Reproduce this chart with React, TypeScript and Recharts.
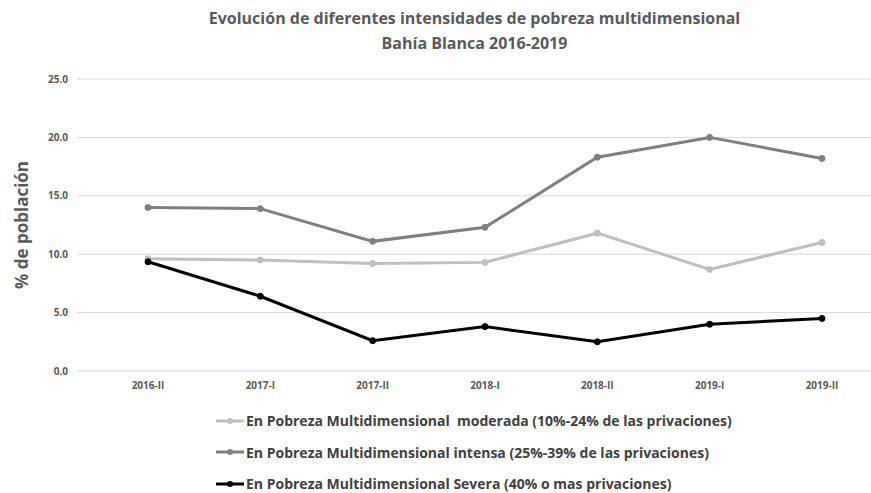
import { LineChart, Line, XAxis, YAxis, CartesianGrid } from 'recharts';

const periods = ['2016-II', '2017-I', '2017-II', '2018-I', '2018-II', '2019-I', '2019-II'];
const moderada = [9.6, 9.5, 9.2, 9.3, 11.8, 8.7, 11.0];
const intensa = [14.0, 13.9, 11.1, 12.3, 18.3, 20.0, 18.2];
const severa = [9.35, 6.4, 2.6, 3.8, 2.5, 4.0, 4.5];
const yTicks = [0, 5, 10, 15, 20, 25];

const series = [
  { key: 'moderada', color: '#bfbfbf', name: 'En Pobreza Multidimensional  moderada (10%-24% de las privaciones)' },
  { key: 'intensa', color: '#7f7f7f', name: 'En Pobreza Multidimensional intensa (25%-39% de las privaciones)' },
  { key: 'severa', color: '#000000', name: 'En Pobreza Multidimensional Severa (40% o mas privaciones)' },
];

const data = periods.map((p, i) => ({
  period: p,
  moderada: moderada[i],
  intensa: intensa[i],
  severa: severa[i],
}));

const FONT = '"Open Sans", sans-serif';
const TXT = '#595959';

function LegendBox() {
  return (
    <div
      style={{
        position: 'absolute',
        left: 216,
        top: 405,
        fontFamily: FONT,
        fontWeight: 700,
        fontSize: 14,
        color: '#404040',
      }}
    >
      {series.map((s) => (
        <div key={s.key} style={{ display: 'flex', alignItems: 'center', height: 31.5 }}>
          <svg width={28} height={10} style={{ marginRight: 2 }}>
            <line x1={0} y1={5} x2={28} y2={5} stroke={s.color} strokeWidth={3} />
            <circle cx={14} cy={5} r={3} fill={s.color} />
          </svg>
          <span style={{ whiteSpace: 'pre' }}>{s.name}</span>
        </div>
      ))}
    </div>
  );
}

export default function App() {
  return (
    <div style={{ position: 'absolute', left: 0, top: 0, width: 871, height: 493, background: '#fff' }}>
      <div
        style={{
          position: 'absolute',
          top: 6,
          left: 78,
          width: 793,
          textAlign: 'center',
          fontFamily: FONT,
          fontWeight: 700,
          fontSize: 16,
          lineHeight: '25px',
          color: TXT,
        }}
      >
        <div>Evolución de diferentes intensidades de pobreza multidimensional</div>
        <div>Bahía Blanca 2016-2019</div>
      </div>
      <LineChart width={871} height={493} data={data} margin={{ top: 79, right: 0, left: 0, bottom: 92 }}>
        <CartesianGrid vertical={false} stroke="#d9d9d9" strokeWidth={1} />
        <XAxis
          dataKey="period"
          scale="point"
          height={30}
          padding={{ left: 71, right: 49 }}
          axisLine={false}
          tickLine={false}
          tickSize={0}
          tickMargin={11}
          tick={{ fill: TXT, fontSize: 10, fontWeight: 700, fontFamily: FONT }}
        />
        <YAxis
          width={77}
          domain={[0, 25]}
          ticks={yTicks}
          tickFormatter={(v: number) => v.toFixed(1)}
          axisLine={false}
          tickLine={false}
          tickSize={0}
          tickMargin={9}
          tick={{ fill: TXT, fontSize: 10, fontWeight: 700, fontFamily: FONT }}
          label={{
            value: '% de población',
            angle: -90,
            position: 'insideLeft',
            dx: 17,
            style: { fill: TXT, fontSize: 17, fontWeight: 700, fontFamily: FONT, textAnchor: 'middle' },
          }}
        />
        {series.map((s) => (
          <Line
            key={s.key}
            dataKey={s.key}
            name={s.name}
            stroke={s.color}
            strokeWidth={3}
            dot={{ r: 3, fill: s.color, stroke: s.color, strokeWidth: 1 }}
            isAnimationActive={false}
          />
        ))}
      </LineChart>
      <LegendBox />
    </div>
  );
}
